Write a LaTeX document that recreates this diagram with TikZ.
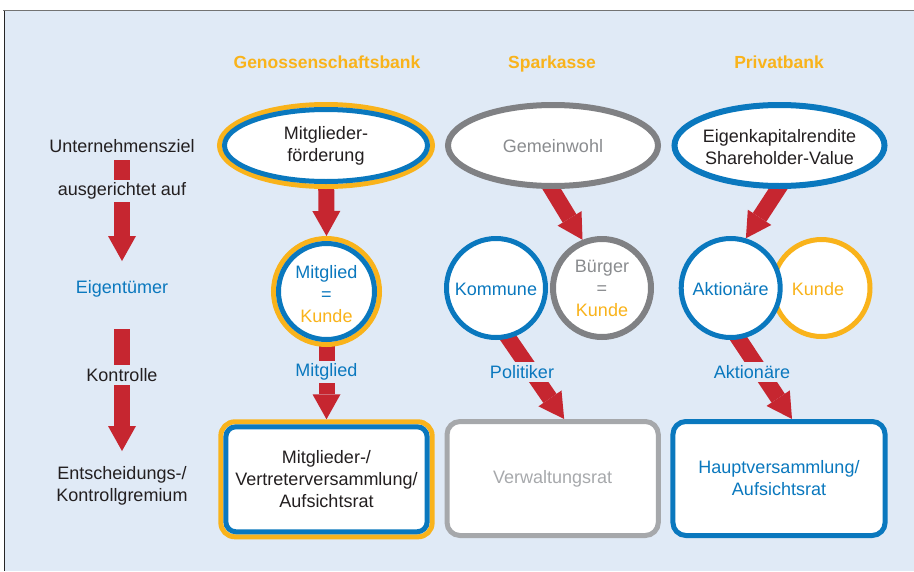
\documentclass[tikz,border=0pt]{standalone}
\usepackage{fontspec}
\setmainfont{Liberation Sans}
\usetikzlibrary{shapes.geometric,arrows.meta,calc,backgrounds}
\definecolor{bgblue}{HTML}{E0EAF6}
\definecolor{orng}{HTML}{F9B31B}
\definecolor{blu}{HTML}{0A78BE}
\definecolor{arrred}{HTML}{C62630}
\definecolor{ringgray}{HTML}{808184}
\definecolor{boxgray}{HTML}{A6A8AB}
\definecolor{txtgray}{HTML}{8A8C8F}
\definecolor{txtlgray}{HTML}{A7A9AC}
\definecolor{txtblack}{HTML}{231F20}
\begin{document}
\begin{tikzpicture}[x=1pt,y=-1pt,
  every node/.style={font=\fontsize{18}{22}\selectfont, text=txtblack},
  hdr/.style={font=\fontsize{17.5}{21}\selectfont\bfseries, text=orng, anchor=base},
  lbl/.style={fill=bgblue, inner sep=3pt},
  fat/.style={draw=arrred, line width=16pt, -{Triangle[length=25pt,width=28pt,line width=0pt]}},
  ell/.style={ellipse, fill=white, line width=5pt, inner sep=0pt},
  ring/.style={circle, fill=white, line width=5pt, inner sep=0pt},
  boxx/.style={rectangle, fill=white, line width=5pt, align=center, inner sep=0pt},
]
\useasboundingbox (0,0) rectangle (914,571);
\begin{scope}[on background layer]
\fill[white] (0,0) rectangle (914,571);
\fill[bgblue] (4.5,10.5) rectangle (914,571);
\draw[line width=1.5pt, color=black!55] (3,10.5) -- (914,10.5);
\draw[line width=1.5pt, color=black!85] (4.5,10.5) -- (4.5,571);
\end{scope}

% headers
\node[hdr] (h1) at (327,68.5) {Genossenschaftsbank};
\node[hdr] (h2) at (552,68.5) {Sparkasse};
\node[hdr] (h3) at (779,68.5) {Privatbank};

% left column labels
\node (l1) at (122,146) {Unternehmensziel};
\node[lbl] (l2) at (122,191) {ausgerichtet auf};
\node[text=blu] (l3) at (122,289) {Eigentümer};
\node[lbl] (l4) at (122,375) {Kontrolle};
\node[align=center] (l5) at (122,486) {Entscheidungs-/\\Kontrollgremium};

% Genossenschaftsbank
\node[ell, draw=orng, minimum width=213pt, minimum height=82pt] (e1o) at (326,145.5) {};
\node[ell, draw=blu, minimum width=203pt, minimum height=72pt] (e1) at (326,145.5) {};
\node[align=center] (e1t) at (326,146) {Mitglieder-\\förderung};
\node[ring, draw=orng, minimum size=106pt] (c1o) at (326.5,291.5) {};
\node[ring, draw=blu, minimum size=96pt] (c1) at (326.5,291.5) {};
\node[align=center] (c1t) at (326.5,294) {\textcolor{blu}{Mitglied}\\\textcolor{blu}{=}\\\textcolor{orng}{Kunde}};
\node[boxx, draw=orng, rounded corners=14pt, minimum width=211.3pt, minimum height=115pt] (b1o) at (326.5,479.3) {};
\node[boxx, draw=blu, rounded corners=10pt, minimum width=201.3pt, minimum height=105pt] (b1) at (326.5,479.3) {Mitglieder-/\\Vertreterversammlung/\\Aufsichtsrat};

% Sparkasse
\node[ell, draw=ringgray, line width=6pt, minimum width=210pt, minimum height=81pt] (e2) at (553,145.5) {};
\node[text=txtgray] (e2t) at (553,146) {Gemeinwohl};
\node[ring, draw=blu, minimum size=99pt] (c2k) at (496,288) {};
\node[text=blu] (c2kt) at (496,289) {Kommune};
\node[ring, draw=ringgray, line width=6pt, minimum size=98pt] (c2b) at (602,288) {};
\node[align=center] (c2bt) at (602,288) {\textcolor{txtgray}{Bürger}\\\textcolor{txtgray}{=}\\\textcolor{orng}{Kunde}};
\node[boxx, draw=boxgray, rounded corners=13pt, minimum width=211.3pt, minimum height=114pt, text=txtlgray] (b2) at (552.65,478.5) {Verwaltungsrat};

% Privatbank
\node[ell, draw=blu, line width=6pt, minimum width=210pt, minimum height=81pt] (e3) at (779.5,145.5) {};
\node[align=center] (e3t) at (779.5,147.5) {Eigenkapitalrendite\\Shareholder-Value};
\node[ring, draw=orng, minimum size=97pt] (c3k) at (821.5,288) {};
\node[text=orng] (c3kt) at (818,289) {Kunde};
\node[ring, draw=blu, minimum size=99pt] (c3a) at (730.7,288) {};
\node[text=blu] (c3at) at (730.7,289) {Aktionäre};
\node[boxx, draw=blu, rounded corners=13pt, minimum width=212.2pt, minimum height=114pt, text=blu] (b3) at (779,478.5) {Hauptversammlung/\\Aufsichtsrat};

% connectors (behind the shapes)
\begin{scope}[on background layer]
\draw[fat] ($(l1.center)+(0,14)$) -- ($(l3.center)+(0,-28)$);
\draw[fat] ($(l3.center)+(0,40)$) -- ($(l5.center)+(0,-35)$);
\draw[fat] (e1.center) -- (c1o.north);
\draw[fat] (c1.center) -- (b1o.north);
\draw[fat] ($(e2.center)+(-8,32.5)$) -- (c2b.112);
\draw[fat] ($(c2k.center)+(0,32)$) -- ($(b2.north)+(11.5,0)$);
\draw[fat] ($(e3.center)+(5.7,32.5)$) -- (c3a.73);
\draw[fat] ($(c3a.center)+(-4.5,32)$) -- ($(b3.north)+(13,0)$);
\end{scope}

% connector labels
\node[lbl, text=blu] (m1) at (326.5,372) {Mitglied};
\node[lbl, text=blu] (m2) at (522,372) {Politiker};
\node[lbl, text=blu] (m3) at (752,372) {Aktionäre};
\end{tikzpicture}
\end{document}
